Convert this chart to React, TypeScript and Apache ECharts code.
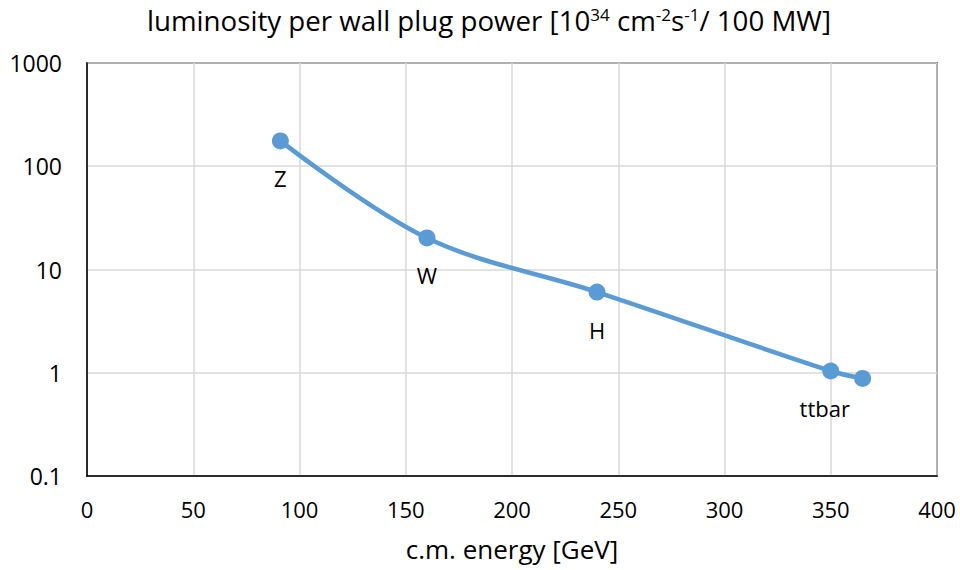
import React, { useEffect, useRef } from "react";
import * as echarts from "echarts";

const energies = [91, 160, 240, 350, 365];
const lumiPerPower = [176, 20.2, 6.05, 1.04, 0.88];
const pointNames = ["Z", "W", "H", "ttbar", ""];
const xTicks = [0, 50, 100, 150, 200, 250, 300, 350, 400];
const yTicks = [0.1, 1, 10, 100, 1000];

const FONT = "'Open Sans', 'Noto Sans', sans-serif";

export default function App() {
  const ref = useRef<HTMLDivElement>(null);
  useEffect(() => {
    document.body.style.margin = "0";
    const chart = echarts.init(ref.current!, null, { renderer: "svg" });
    chart.setOption({
      animation: false,
      backgroundColor: "#ffffff",
      title: {
        text: "luminosity per wall plug power [10{sup|34} cm{sup|-2}s{sup|-1}/ 100 MW]",
        left: 147,
        top: 6,
        padding: 0,
        textStyle: {
          fontFamily: FONT,
          fontSize: 27.7,
          fontWeight: "normal",
          color: "#000",
          rich: {
            sup: { fontSize: 17, verticalAlign: "top", fontFamily: FONT, color: "#000", padding: [0, 0, 8, 0] },
          },
        },
      },
      grid: {
        left: 87,
        right: 23,
        top: 63,
        bottom: 94,
        show: true,
        borderColor: "#000",
        borderWidth: 1.5,
        containLabel: false,
      },
      xAxis: {
        type: "value",
        min: xTicks[0],
        max: xTicks[xTicks.length - 1],
        interval: 50,
        name: "c.m. energy [GeV]",
        nameLocation: "middle",
        nameGap: 60,
        nameTextStyle: { fontFamily: FONT, fontSize: 26, color: "#000" },
        axisLine: { show: true, lineStyle: { color: "#000", width: 1.5 } },
        axisTick: { show: false },
        axisLabel: { fontFamily: FONT, fontSize: 22, color: "#000", margin: 22 },
        splitLine: { show: true, lineStyle: { color: "#d9d9d9", width: 1.5 } },
      },
      yAxis: {
        type: "log",
        logBase: 10,
        min: yTicks[0],
        max: yTicks[yTicks.length - 1],
        axisLine: { show: true, lineStyle: { color: "#000", width: 1.5 } },
        axisTick: { show: false },
        axisLabel: {
          fontFamily: FONT,
          fontSize: 23,
          color: "#000",
          margin: 25,
          formatter: (v: number) => (v < 1 ? String(Number(v.toFixed(1))) : String(Math.round(v))),
        },
        splitLine: { show: true, lineStyle: { color: "#d9d9d9", width: 1.5 } },
      },
      series: [
        {
          type: "line",
          smooth: 0.35,
          symbol: "circle",
          symbolSize: 17,
          itemStyle: { color: "#5b9bd5" },
          lineStyle: { color: "#5b9bd5", width: 4.5 },
          data: energies.map((e, i) => ({
            value: [e, lumiPerPower[i]],
            label: {
              show: pointNames[i] !== "",
              formatter: pointNames[i],
              position: "bottom",
              distance: 18,
              offset: pointNames[i] === "ttbar" ? [-6, 0] : [0, 0],
              fontFamily: FONT,
              fontSize: 22,
              color: "#000",
            },
          })),
        },
      ],
    });
    return () => chart.dispose();
  }, []);
  return <div ref={ref} style={{ width: 960, height: 570 }} />;
}
